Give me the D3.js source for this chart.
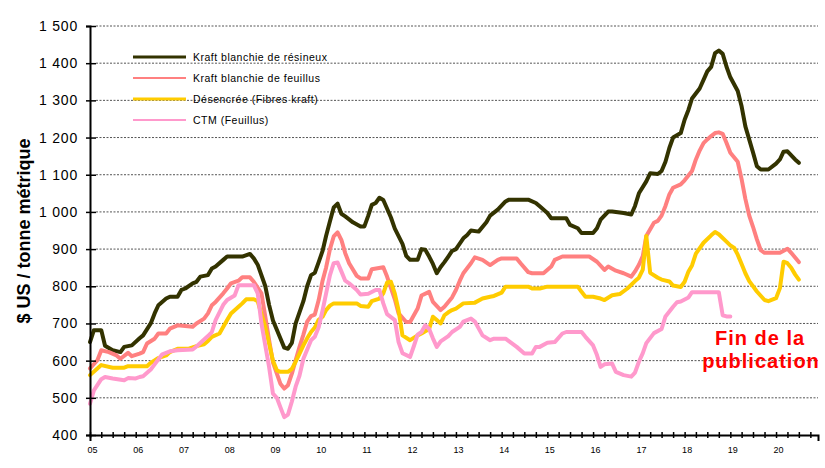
<!DOCTYPE html>
<html>
<head>
<meta charset="utf-8">
<script src="https://cdn.jsdelivr.net/npm/d3@7"></script>
<style>
    body { margin: 0; background: #fff; }
    svg text { font-family: "Liberation Sans", Arial, sans-serif; }
</style>
</head>
<body>
<div id="chart"></div>
<script>
// Series names and colours (legend order)
const seriesNames = ["Kraft blanchie de résineux", "Kraft blanchie de feuillus", "Désencrée (Fibres kraft)", "CTM (Feuillus)"];
const seriesColors = ["#333300", "#FF8080", "#FFCC00", "#FF99CC"];

// Monthly prices, $ US / tonne métrique
const kraftResineux = [
    ["2005-01", 650], ["2005-02", 682], ["2005-04", 682], ["2005-05", 640], ["2005-07", 628], ["2005-09", 623],
    ["2005-10", 637], ["2005-12", 641], ["2006-02", 660], ["2006-03", 668], ["2006-05", 700], ["2006-06", 727],
    ["2006-07", 749], ["2006-09", 767], ["2006-10", 772], ["2006-12", 772], ["2007-01", 790], ["2007-02", 794],
    ["2007-04", 808], ["2007-05", 812], ["2007-06", 826], ["2007-08", 830], ["2007-09", 848], ["2007-10", 853],
    ["2007-12", 871], ["2008-01", 880], ["2008-05", 880], ["2008-07", 887], ["2008-08", 875], ["2008-09", 858],
    ["2008-11", 800], ["2008-12", 750], ["2009-01", 708], ["2009-03", 660], ["2009-04", 635], ["2009-05", 632],
    ["2009-06", 648], ["2009-07", 700], ["2009-09", 760], ["2009-10", 800], ["2009-11", 830], ["2009-12", 836],
    ["2010-01", 865], ["2010-02", 895], ["2010-03", 935], ["2010-04", 975], ["2010-05", 1012], ["2010-06", 1022],
    ["2010-07", 995], ["2010-08", 988], ["2010-09", 980], ["2010-10", 972], ["2010-12", 961], ["2011-01", 961],
    ["2011-02", 990], ["2011-03", 1019], ["2011-04", 1024], ["2011-05", 1038], ["2011-06", 1032], ["2011-08", 985],
    ["2011-09", 955], ["2011-11", 914], ["2011-12", 882], ["2012-01", 871], ["2012-03", 871], ["2012-04", 900],
    ["2012-05", 898], ["2012-06", 880], ["2012-07", 860], ["2012-08", 835], ["2012-09", 852], ["2012-10", 865],
    ["2012-11", 880], ["2012-12", 895], ["2013-01", 900], ["2013-03", 929], ["2013-04", 938], ["2013-05", 950],
    ["2013-07", 947], ["2013-09", 972], ["2013-10", 990], ["2013-12", 1006], ["2014-02", 1028], ["2014-03", 1033],
    ["2014-08", 1033], ["2014-10", 1024], ["2014-11", 1015], ["2015-01", 997], ["2015-02", 983], ["2015-06", 983],
    ["2015-07", 965], ["2015-09", 956], ["2015-10", 943], ["2016-01", 943], ["2016-02", 956], ["2016-03", 979],
    ["2016-05", 1001], ["2016-06", 1001], ["2016-09", 997], ["2016-11", 993], ["2016-12", 1016], ["2017-01", 1050],
    ["2017-03", 1082], ["2017-04", 1104], ["2017-06", 1102], ["2017-07", 1110], ["2017-08", 1135], ["2017-09", 1172],
    ["2017-10", 1200], ["2017-12", 1212], ["2018-01", 1248], ["2018-02", 1275], ["2018-03", 1305], ["2018-05", 1332],
    ["2018-06", 1355], ["2018-07", 1378], ["2018-08", 1390], ["2018-09", 1427], ["2018-10", 1434], ["2018-11", 1425],
    ["2018-12", 1391], ["2019-01", 1362], ["2019-03", 1325], ["2019-04", 1284], ["2019-05", 1230], ["2019-07", 1160],
    ["2019-08", 1123], ["2019-09", 1114], ["2019-11", 1114], ["2020-01", 1130], ["2020-02", 1141], ["2020-03", 1162],
    ["2020-04", 1163], ["2020-06", 1141], ["2020-07", 1132]
];

const kraftFeuillus = [
    ["2005-01", 579], ["2005-03", 601], ["2005-04", 628], ["2005-06", 623], ["2005-08", 614], ["2005-09", 605],
    ["2005-11", 621], ["2005-12", 612], ["2006-02", 619], ["2006-03", 623], ["2006-04", 646], ["2006-06", 659],
    ["2006-07", 673], ["2006-09", 673], ["2006-10", 686], ["2006-12", 695], ["2007-04", 691], ["2007-05", 700],
    ["2007-07", 713], ["2007-08", 727], ["2007-09", 749], ["2007-10", 758], ["2007-12", 781], ["2008-01", 794],
    ["2008-02", 808], ["2008-04", 815], ["2008-05", 824], ["2008-07", 824], ["2008-08", 812], ["2008-10", 781],
    ["2008-11", 718], ["2008-12", 655], ["2009-01", 595], ["2009-03", 538], ["2009-04", 525], ["2009-05", 534],
    ["2009-06", 565], ["2009-07", 601], ["2009-08", 637], ["2009-09", 670], ["2009-10", 705], ["2009-11", 720],
    ["2009-12", 724], ["2010-01", 763], ["2010-02", 815], ["2010-03", 850], ["2010-04", 900], ["2010-05", 934],
    ["2010-06", 945], ["2010-07", 925], ["2010-08", 889], ["2010-09", 862], ["2010-11", 828], ["2010-12", 821],
    ["2011-02", 821], ["2011-03", 846], ["2011-06", 851], ["2011-07", 826], ["2011-09", 765], ["2011-10", 727],
    ["2011-12", 704], ["2012-01", 704], ["2012-03", 740], ["2012-04", 775], ["2012-06", 785], ["2012-07", 758],
    ["2012-09", 736], ["2012-10", 745], ["2012-12", 770], ["2013-01", 790], ["2013-02", 815], ["2013-03", 835],
    ["2013-05", 862], ["2013-06", 878], ["2013-08", 871], ["2013-10", 857], ["2013-12", 871], ["2014-01", 875],
    ["2014-05", 875], ["2014-06", 862], ["2014-08", 838], ["2014-09", 835], ["2014-12", 835], ["2015-02", 853],
    ["2015-03", 871], ["2015-05", 880], ["2015-12", 880], ["2016-02", 866], ["2016-04", 844], ["2016-05", 853],
    ["2016-07", 842], ["2016-09", 835], ["2016-11", 826], ["2016-12", 840], ["2017-01", 858], ["2017-02", 881],
    ["2017-03", 935], ["2017-05", 971], ["2017-06", 976], ["2017-07", 990], ["2017-08", 1016], ["2017-09", 1047],
    ["2017-10", 1065], ["2017-12", 1074], ["2018-01", 1085], ["2018-03", 1110], ["2018-04", 1141], ["2018-05", 1165],
    ["2018-06", 1185], ["2018-07", 1195], ["2018-08", 1204], ["2018-09", 1212], ["2018-10", 1214], ["2018-11", 1210],
    ["2018-12", 1186], ["2019-01", 1159], ["2019-03", 1135], ["2019-04", 1088], ["2019-05", 1035], ["2019-06", 990],
    ["2019-07", 960], ["2019-08", 926], ["2019-09", 897], ["2019-10", 890], ["2020-02", 890], ["2020-04", 901],
    ["2020-05", 890], ["2020-07", 865]
];

const desencree = [
    ["2005-01", 561], ["2005-03", 579], ["2005-04", 588], ["2005-07", 581], ["2005-10", 581], ["2005-11", 585],
    ["2006-04", 585], ["2006-05", 594], ["2006-07", 607], ["2006-09", 614], ["2006-10", 623], ["2006-12", 632],
    ["2007-03", 632], ["2007-05", 639], ["2007-07", 644], ["2007-08", 653], ["2007-09", 664], ["2007-11", 673],
    ["2008-01", 709], ["2008-02", 727], ["2008-04", 745], ["2008-05", 754], ["2008-06", 765], ["2008-08", 765],
    ["2008-09", 760], ["2008-10", 725], ["2008-11", 690], ["2008-12", 646], ["2009-01", 600], ["2009-02", 574],
    ["2009-03", 570], ["2009-05", 570], ["2009-06", 578], ["2009-07", 597], ["2009-08", 619], ["2009-09", 641],
    ["2009-10", 660], ["2009-11", 677], ["2009-12", 689], ["2010-01", 710], ["2010-02", 718], ["2010-03", 736],
    ["2010-04", 748], ["2010-05", 754], ["2010-11", 754], ["2010-12", 747], ["2011-02", 745], ["2011-03", 760],
    ["2011-05", 767], ["2011-06", 781], ["2011-07", 810], ["2011-08", 812], ["2011-09", 780], ["2011-10", 735],
    ["2011-11", 668], ["2012-01", 655], ["2012-03", 668], ["2012-04", 673], ["2012-06", 685], ["2012-07", 718],
    ["2012-08", 709], ["2012-09", 700], ["2012-10", 722], ["2012-11", 730], ["2012-12", 736], ["2013-01", 740],
    ["2013-03", 754], ["2013-06", 756], ["2013-08", 767], ["2013-10", 772], ["2013-11", 774], ["2014-01", 783],
    ["2014-02", 799], ["2014-08", 799], ["2014-09", 794], ["2014-11", 794], ["2015-01", 799], ["2015-09", 799],
    ["2015-10", 785], ["2015-11", 772], ["2016-01", 772], ["2016-03", 767], ["2016-04", 763], ["2016-06", 776],
    ["2016-08", 779], ["2016-10", 794], ["2016-12", 814], ["2017-01", 823], ["2017-02", 845], ["2017-03", 935],
    ["2017-04", 836], ["2017-06", 823], ["2017-07", 818], ["2017-09", 813], ["2017-10", 802], ["2017-12", 798],
    ["2018-01", 812], ["2018-02", 840], ["2018-03", 856], ["2018-04", 888], ["2018-06", 917], ["2018-08", 937],
    ["2018-09", 946], ["2018-10", 940], ["2018-12", 920], ["2019-01", 910], ["2019-02", 903], ["2019-03", 885],
    ["2019-04", 860], ["2019-05", 835], ["2019-06", 814], ["2019-08", 786], ["2019-10", 763], ["2019-11", 760],
    ["2020-01", 768], ["2020-02", 795], ["2020-03", 866], ["2020-04", 862], ["2020-05", 850], ["2020-06", 832],
    ["2020-07", 818]
];

const ctmFeuillus = [
    ["2005-01", 484], ["2005-02", 520], ["2005-04", 550], ["2005-05", 556], ["2005-07", 552], ["2005-10", 547],
    ["2005-11", 553], ["2006-01", 552], ["2006-02", 556], ["2006-03", 558], ["2006-05", 576], ["2006-06", 590],
    ["2006-08", 617], ["2006-10", 625], ["2006-12", 628], ["2007-04", 630], ["2007-05", 638], ["2007-08", 666],
    ["2007-09", 677], ["2007-10", 709], ["2007-12", 750], ["2008-01", 763], ["2008-03", 775], ["2008-04", 803],
    ["2008-08", 803], ["2008-09", 781], ["2008-10", 700], ["2008-11", 640], ["2008-12", 583], ["2009-01", 511],
    ["2009-02", 500], ["2009-03", 475], ["2009-04", 448], ["2009-05", 455], ["2009-06", 490], ["2009-07", 530],
    ["2009-08", 560], ["2009-09", 605], ["2009-11", 655], ["2009-12", 664], ["2010-01", 690], ["2010-02", 735],
    ["2010-03", 780], ["2010-04", 830], ["2010-05", 862], ["2010-06", 864], ["2010-07", 840], ["2010-08", 815],
    ["2010-09", 808], ["2010-11", 790], ["2010-12", 778], ["2011-02", 780], ["2011-04", 790], ["2011-05", 790],
    ["2011-06", 754], ["2011-07", 725], ["2011-09", 709], ["2011-10", 650], ["2011-11", 620], ["2012-01", 610],
    ["2012-02", 640], ["2012-03", 670], ["2012-04", 677], ["2012-05", 695], ["2012-06", 685], ["2012-07", 660],
    ["2012-08", 637], ["2012-09", 652], ["2012-11", 666], ["2012-12", 677], ["2013-02", 691], ["2013-03", 705],
    ["2013-05", 713], ["2013-06", 705], ["2013-08", 668], ["2013-10", 655], ["2013-11", 659], ["2014-02", 659],
    ["2014-05", 637], ["2014-07", 619], ["2014-09", 619], ["2014-10", 637], ["2014-11", 637], ["2015-01", 648],
    ["2015-03", 650], ["2015-05", 673], ["2015-06", 677], ["2015-10", 677], ["2015-11", 664], ["2016-01", 641],
    ["2016-02", 615], ["2016-03", 583], ["2016-04", 590], ["2016-06", 592], ["2016-07", 570], ["2016-09", 561],
    ["2016-11", 557], ["2016-12", 568], ["2017-01", 597], ["2017-02", 620], ["2017-03", 647], ["2017-05", 674],
    ["2017-07", 685], ["2017-08", 719], ["2017-10", 745], ["2017-11", 757], ["2017-12", 759], ["2018-02", 770],
    ["2018-03", 784], ["2018-10", 784], ["2018-11", 722], ["2018-12", 719], ["2019-01", 719]
];

const allSeries = [kraftResineux, kraftFeuillus, desencree, ctmFeuillus];

// Axis ticks
const yTicks = [400, 500, 600, 700, 800, 900, 1000, 1100, 1200, 1300, 1400, 1500];
const xStart = "2005-01";
const xEnd = "2020-12";

const width = 825, height = 468;
const margin = { top: 26, right: 7, bottom: 33, left: 90 };
const innerW = width - margin.left - margin.right;
const innerH = height - margin.top - margin.bottom;

const parseMonth = d3.timeParse("%Y-%m");
const frLocale = d3.formatLocale({ decimal: ",", thousands: " ", grouping: [3], currency: ["", " $"] });
const fmt = frLocale.format(",");

const svg = d3.select("#chart")
    .append("svg")
    .attr("width", width)
    .attr("height", height);

const g = svg.append("g")
    .attr("transform", `translate(${margin.left},${margin.top})`);

const x = d3.scaleTime()
    .domain([parseMonth(xStart), parseMonth(xEnd)])
    .range([0, innerW]);
const y = d3.scaleLinear()
    .domain([400, 1500])
    .range([innerH, 0]);

// Gridlines
g.append("g")
    .selectAll("line")
    .data(yTicks.filter(v => v > 400))
    .enter()
    .append("line")
    .attr("x1", 6)
    .attr("x2", innerW)
    .attr("y1", d => y(d))
    .attr("y2", d => y(d))
    .attr("stroke", "#555")
    .attr("stroke-width", 1)
    .attr("stroke-dasharray", "2,1.5");

// Lines
const line = d3.line()
    .x(d => x(parseMonth(d[0])))
    .y(d => y(d[1]));

g.append("g")
    .selectAll("path")
    .data(allSeries)
    .enter()
    .append("path")
    .attr("d", line)
    .attr("fill", "none")
    .attr("stroke", (d, i) => seriesColors[i])
    .attr("stroke-width", 4)
    .attr("stroke-linejoin", "round")
    .attr("stroke-linecap", "round");

// Y axis
const yAxis = d3.axisLeft(y)
    .tickValues(yTicks)
    .tickFormat(fmt)
    .tickSize(4);
const yAxisG = g.append("g").call(yAxis);
yAxisG.select(".domain").attr("stroke", "#000").attr("stroke-width", 2);
yAxisG.selectAll(".tick line").attr("x1", 6).attr("x2", -4).attr("stroke-width", 1.5);
yAxisG.selectAll(".tick text")
    .attr("x", -12)
    .attr("font-size", 14)
    .attr("letter-spacing", "0.8px")
    .attr("fill", "#000");

// X axis
const xAxis = d3.axisBottom(x)
    .ticks(d3.timeMonth.every(3))
    .tickFormat(d => d.getMonth() === 0 ? d3.timeFormat("%y")(d) : "");
const xAxisG = g.append("g")
    .attr("transform", `translate(0,${innerH})`)
    .call(xAxis);
xAxisG.select(".domain").attr("stroke", "#000").attr("stroke-width", 2);
xAxisG.selectAll(".tick line").attr("y1", -3).attr("y2", 3).attr("stroke-width", 1.5);
xAxisG.selectAll(".tick text")
    .attr("y", 12)
    .attr("dx", 2)
    .attr("font-size", 9)
    .attr("font-family", "'Liberation Sans Narrow', 'Liberation Sans', Arial, sans-serif")
    .attr("fill", "#000");

// Y axis title
svg.append("text")
    .attr("transform", "translate(30,231) rotate(-90)")
    .attr("text-anchor", "middle")
    .attr("font-size", 18)
    .attr("font-weight", "bold")
    .text("$ US / tonne métrique");

// Legend
const legendRows = [57, 78, 99, 120];
const legendWidths = [3, 2, 3, 2];
const legend = svg.append("g");
seriesNames.forEach((name, i) => {
    legend.append("line")
        .attr("x1", 133).attr("x2", 186)
        .attr("y1", legendRows[i]).attr("y2", legendRows[i])
        .attr("stroke", seriesColors[i])
        .attr("stroke-width", legendWidths[i]);
    legend.append("text")
        .attr("x", 193)
        .attr("y", legendRows[i])
        .attr("dy", "0.35em")
        .attr("font-size", 10.5)
        .attr("letter-spacing", "0.5px")
        .text(name);
});

// End of publication note
const note = svg.append("g")
    .attr("font-size", 20)
    .attr("font-weight", "bold")
    .attr("fill", "#FF0000")
    .attr("text-anchor", "middle")
    .attr("letter-spacing", "1px");
note.append("text").attr("x", 760).attr("y", 345).text("Fin de la");
note.append("text").attr("x", 761).attr("y", 368).text("publication");
</script>
</body>
</html>
